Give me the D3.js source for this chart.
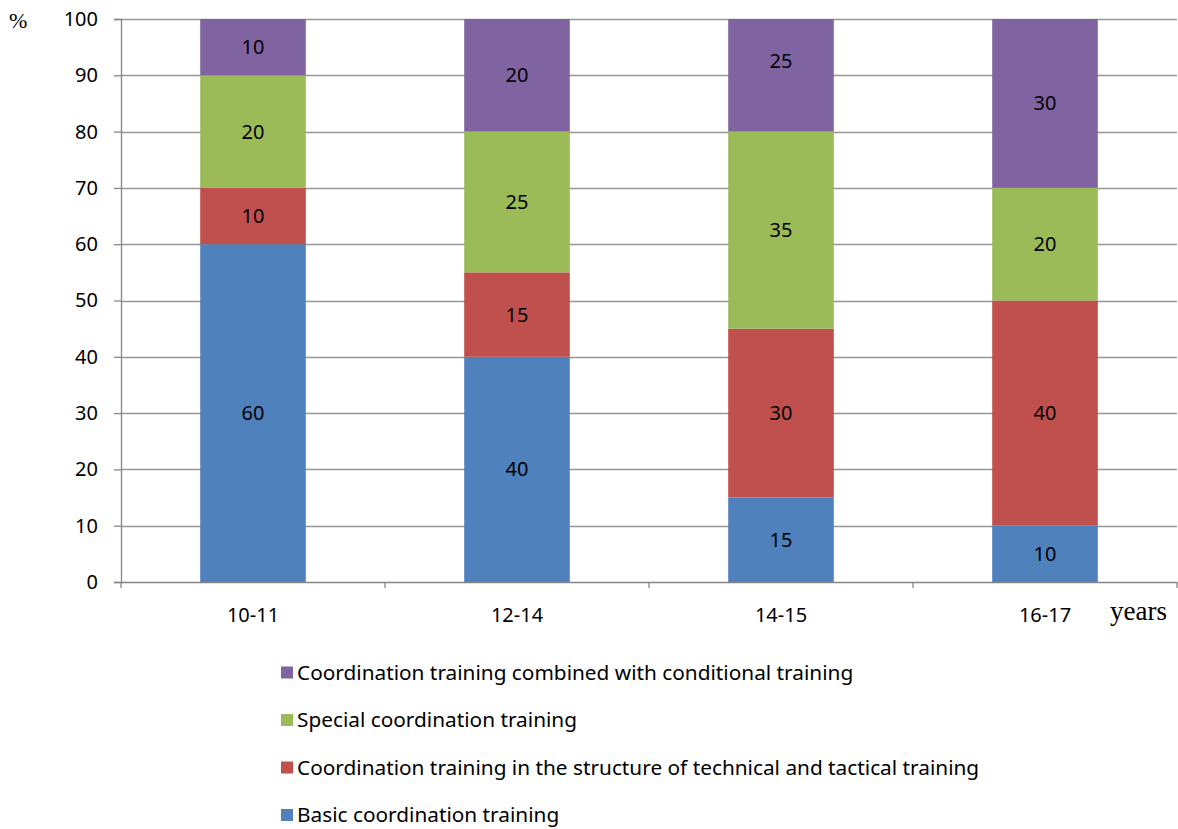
<!DOCTYPE html>
<html><head><meta charset="utf-8">
<script src="https://cdn.jsdelivr.net/npm/d3@7"></script>
<style>body{margin:0;background:#fff}svg{display:block}</style>
</head><body><svg id="c" width="1178" height="829"></svg>
<script>
const categories = ["10-11", "12-14", "14-15", "16-17"];
const seriesNames = [
  "Basic coordination training",
  "Coordination training in the structure of technical and tactical training",
  "Special coordination training",
  "Coordination training combined with conditional training"
];
const basic = [60, 40, 15, 10];
const technical = [10, 15, 30, 40];
const special = [20, 25, 35, 20];
const combined = [10, 20, 25, 30];
const yTicks = [0, 10, 20, 30, 40, 50, 60, 70, 80, 90, 100];
const colors = ["#4F81BD", "#C0504D", "#9BBB59", "#8064A2"];

(function () {
const seriesVals = [basic, technical, special, combined];
const rows = categories.map((c, i) => {
  const r = {cat: c};
  seriesNames.forEach((s, k) => r[s] = seriesVals[k][i]);
  return r;
});
const stack = d3.stack().keys(seriesNames)(rows);

const svg = d3.select("#c");
const pLeft = 121, pRight = 1177, pTop = 19, pBottom = 582;
const x = d3.scaleBand().domain(categories).range([pLeft, pRight]).paddingInner(0.6).paddingOuter(0.3);
const xb = d3.scaleBand().domain(categories).range([pLeft, pRight]);
const y = d3.scaleLinear().domain([0, 100]).range([pBottom, pTop]);
const font = "'Noto Sans', sans-serif";

svg.append("defs").append("clipPath").attr("id", "plotclip").append("rect")
  .attr("x", pLeft).attr("y", pTop).attr("width", pRight - pLeft).attr("height", pBottom - pTop);

svg.append("g").selectAll("line").data(yTicks.filter(t => t > 0)).join("line")
  .attr("x1", pLeft).attr("x2", pRight)
  .attr("y1", d => Math.round(y(d)) + 0.5).attr("y2", d => Math.round(y(d)) + 0.5)
  .attr("stroke", "#969696").attr("stroke-width", 1.3);

const g = svg.append("g");
const gb = g.append("g").attr("clip-path", "url(#plotclip)");
stack.forEach((s, k) => {
  gb.selectAll(null).data(s).join("rect")
    .attr("x", d => x(d.data.cat)).attr("width", x.bandwidth())
    .attr("y", d => y(d[1])).attr("height", d => y(d[0]) - y(d[1]))
    .attr("fill", colors[k]);
});
stack.forEach((s, k) => {
  g.selectAll(null).data(s).join("text")
    .attr("x", d => x(d.data.cat) + x.bandwidth() / 2)
    .attr("y", d => (y(d[0]) + y(d[1])) / 2)
    .attr("dy", "0.35em").attr("text-anchor", "middle")
    .attr("font-family", font).attr("font-size", 20).attr("fill", "#000")
    .text(d => d[1] - d[0]);
});

const yAxis = svg.append("g").attr("transform", `translate(${pLeft},0)`)
  .call(d3.axisLeft(y).tickValues(yTicks).tickSize(7).tickPadding(16));
yAxis.select(".domain").attr("stroke", "#868686").attr("stroke-width", 1.3);
yAxis.selectAll(".tick line").attr("stroke", "#868686").attr("stroke-width", 1.3);
yAxis.selectAll("text").attr("font-family", font).attr("font-size", 20).attr("fill", "#000");

const xAxis = svg.append("g").attr("transform", `translate(0,${pBottom})`)
  .call(d3.axisBottom(xb).tickSize(0).tickPadding(26));
xAxis.select(".domain").attr("stroke", "#868686").attr("stroke-width", 1.3);
xAxis.selectAll("text").attr("font-family", font).attr("font-size", 20).attr("fill", "#000");
svg.append("g").selectAll("line").data(categories.map(c => xb(c)).concat([pRight])).join("line")
  .attr("x1", d => d).attr("x2", d => d).attr("y1", pBottom).attr("y2", pBottom + 6)
  .attr("stroke", "#868686").attr("stroke-width", 1.3);

svg.append("text").attr("x", 9).attr("y", 28).attr("font-family", "'Liberation Serif', serif")
  .attr("font-size", 22).text("%");
svg.append("text").attr("x", 1110).attr("y", 620).attr("font-family", "'Liberation Serif', serif")
  .attr("font-size", 27).text("years");

const legendOrder = [3, 2, 1, 0];
const lg = svg.append("g");
legendOrder.forEach((k, i) => {
  const cy = 672.5 + i * 47.5;
  lg.append("rect").attr("x", 281).attr("y", cy - 6).attr("width", 12).attr("height", 12).attr("fill", colors[k]);
  lg.append("text").attr("x", 297).attr("y", cy).attr("dy", "0.35em")
    .attr("font-family", font).attr("font-size", 20.8).text(seriesNames[k]);
});
})();
</script></body></html>
